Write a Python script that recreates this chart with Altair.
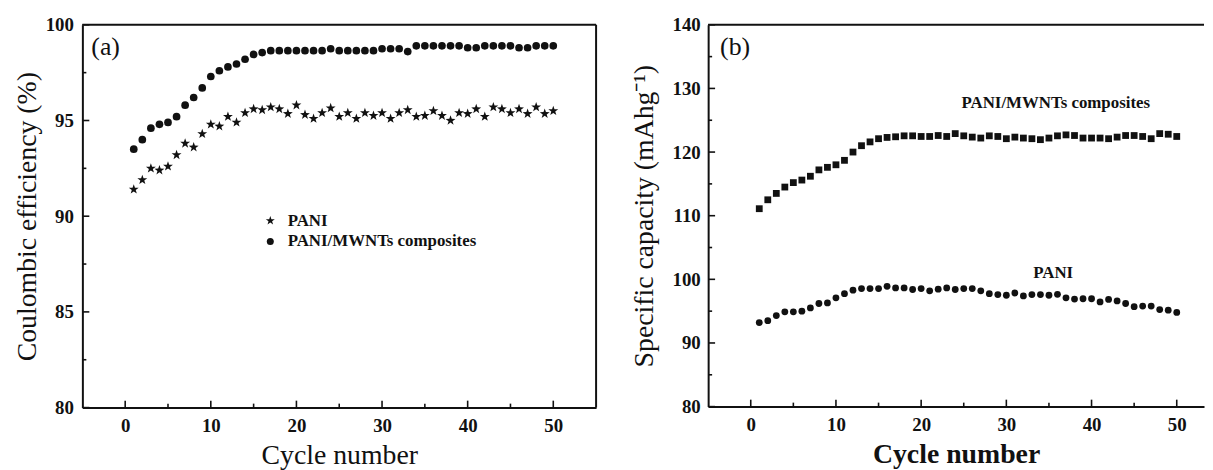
import altair as alt
import pandas as pd

# ---------------- data ----------------
cycles = list(range(1, 51))

a_pani = [91.4, 91.9, 92.5, 92.4, 92.6, 93.2, 93.8, 93.6, 94.3, 94.8,
          94.7, 95.2, 94.9, 95.4, 95.6, 95.55, 95.7, 95.6, 95.35, 95.8,
          95.3, 95.1, 95.4, 95.65, 95.2, 95.4, 95.1, 95.4, 95.25, 95.4,
          95.1, 95.4, 95.55, 95.2, 95.25, 95.5, 95.25, 95.0, 95.4, 95.35,
          95.6, 95.2, 95.7, 95.6, 95.4, 95.6, 95.35, 95.7, 95.35, 95.5]

a_comp = [93.5, 94.0, 94.6, 94.8, 94.9, 95.2, 95.8, 96.2, 96.7, 97.3,
          97.6, 97.8, 97.95, 98.2, 98.45, 98.55, 98.65, 98.65, 98.65, 98.65,
          98.65, 98.65, 98.65, 98.75, 98.65, 98.65, 98.65, 98.65, 98.65, 98.75,
          98.75, 98.75, 98.6, 98.9, 98.9, 98.9, 98.9, 98.9, 98.9, 98.8,
          98.8, 98.9, 98.9, 98.9, 98.9, 98.8, 98.8, 98.9, 98.9, 98.9]

b_comp = [111.1, 112.5, 113.5, 114.5, 115.2, 115.6, 116.2, 117.2, 117.6, 118.0,
          118.7, 120.0, 121.0, 121.6, 122.1, 122.3, 122.4, 122.55, 122.55, 122.45,
          122.45, 122.6, 122.45, 122.9, 122.55, 122.35, 122.2, 122.55, 122.45, 122.1,
          122.35, 122.2, 122.1, 121.95, 122.2, 122.55, 122.7, 122.6, 122.2, 122.2,
          122.2, 122.1, 122.35, 122.6, 122.6, 122.45, 122.1, 122.9, 122.8, 122.45]

b_pani = [93.2, 93.5, 94.3, 94.9, 94.9, 95.0, 95.5, 96.2, 96.3, 97.1,
          97.75, 98.3, 98.55, 98.55, 98.55, 98.9, 98.65, 98.65, 98.4, 98.55,
          98.2, 98.45, 98.65, 98.4, 98.55, 98.55, 98.2, 97.75, 97.6, 97.5,
          97.85, 97.4, 97.6, 97.6, 97.5, 97.65, 97.1, 96.9, 96.95, 96.95,
          96.45, 96.85, 96.6, 96.2, 95.7, 95.8, 95.8, 95.25, 95.15, 94.8]

series_names = ["PANI", "PANI/MWNTs composites"]
panel_tags = ["(a)", "(b)"]
y_titles = ["Coulombic efficiency (%)", "Specific capacity (mAhg\u207b\u00b9)"]
x_title = "Cycle number"

x_major = [0, 10, 20, 30, 40, 50]
x_minor = [5, 15, 25, 35, 45]
ya_major = [80, 85, 90, 95, 100]
ya_minor = [82.5, 87.5, 92.5, 97.5]
yb_major = [80, 90, 100, 110, 120, 130, 140]
yb_minor = [85, 95, 105, 115, 125, 135]

# ---------------- style ----------------
FONT = "Liberation Serif"
INK = "#111111"
WA, HA = 518, 386
WB, HB = 500, 385
# five-pointed star, drawn a little beyond the unit box so it reads as large as the dots
STAR = ("M0,-1.35L0.317,-0.437L1.284,-0.417L0.513,0.167L0.794,1.092L0,0.54"
        "L-0.794,1.092L-0.513,0.167L-1.284,-0.417L-0.317,-0.437Z")


def axis(values, title, title_weight, label_pad, title_pad):
    return alt.Axis(values=values, title=title, ticks=False,
                    grid=False, domainColor=INK, domainWidth=2,
                    labelFont=FONT, labelFontSize=19, labelFontWeight="bold",
                    labelColor=INK, labelPadding=label_pad,
                    titleFont=FONT, titleFontSize=28, titleFontWeight=title_weight,
                    titleColor=INK, titlePadding=title_pad)


def tick_layers(ymaj, ymin, H):
    layers = []
    for vals, ln in ((x_major, 7), (x_minor, 4)):
        layers.append(
            alt.Chart(pd.DataFrame({"cycle": vals})).mark_rule(color=INK, strokeWidth=1.6)
            .encode(x="cycle:Q", y=alt.value(H), y2=alt.value(H - ln)))
    for vals, ln in ((ymaj, 7), (ymin, 4)):
        layers.append(
            alt.Chart(pd.DataFrame({"value": vals})).mark_rule(color=INK, strokeWidth=1.6)
            .encode(y="value:Q", x=alt.value(0), x2=alt.value(ln)))
    return layers


# ---------------- panel (a) ----------------
dfa = pd.DataFrame({
    "cycle": cycles * 2,
    "value": a_pani + a_comp,
    "series": [series_names[0]] * 50 + [series_names[1]] * 50,
})

xa = alt.X("cycle:Q", scale=alt.Scale(domain=[-5, 55], nice=False, zero=False),
           axis=axis(x_major, x_title, "normal", 9, 6))
ya = alt.Y("value:Q", scale=alt.Scale(domain=[80, 100], nice=False, zero=False),
           axis=axis(ya_major, y_titles[0], "normal", 9, 4))

pts_a = alt.Chart(dfa).mark_point(filled=True, opacity=1, color=INK, size=60).encode(
    x=xa, y=ya,
    shape=alt.Shape("series:N", scale=alt.Scale(domain=series_names, range=[STAR, "circle"]),
                    legend=alt.Legend(title=None, orient="none", legendX=181, legendY=189,
                                      labelFont=FONT, labelFontSize=17, labelFontWeight="bold",
                                      labelColor=INK, symbolFillColor=INK, labelLimit=400,
                                      symbolSize=50, labelOffset=9,
                                      rowPadding=3, padding=0)),
)

tag_a = alt.Chart(pd.DataFrame({"t": [panel_tags[0]]})).mark_text(
    font=FONT, fontSize=26, color=INK, align="left", baseline="top").encode(
    x=alt.value(9), y=alt.value(9), text="t:N")

frame_top_a = alt.Chart(pd.DataFrame({"value": [100]})).mark_rule(color=INK, strokeWidth=2).encode(
    y="value:Q", x=alt.value(0), x2=alt.value(WA))
frame_right_a = alt.Chart(pd.DataFrame({"cycle": [55]})).mark_rule(color=INK, strokeWidth=2).encode(
    x="cycle:Q", y=alt.value(0), y2=alt.value(HA))

panel_a = alt.layer(pts_a, tag_a, frame_top_a, frame_right_a,
                    *tick_layers(ya_major, ya_minor, HA)).properties(width=WA, height=HA)

# ---------------- panel (b) ----------------
dfb = pd.DataFrame({
    "cycle": cycles * 2,
    "value": b_pani + b_comp,
    "series": [series_names[0]] * 50 + [series_names[1]] * 50,
})

xb = alt.X("cycle:Q", scale=alt.Scale(domain=[-5, 53.2], nice=False, zero=False),
           axis=axis(x_major, x_title, "bold", 9, 6))
yb = alt.Y("value:Q", scale=alt.Scale(domain=[80, 140], nice=False, zero=False),
           axis=axis(yb_major, y_titles[1], "normal", 8, 14))

pts_b = alt.Chart(dfb).mark_point(filled=True, opacity=1, color=INK, size=47).encode(
    x=xb, y=yb,
    shape=alt.Shape("series:N", scale=alt.Scale(domain=series_names, range=["circle", "square"]),
                    legend=None),
)

lab_comp = alt.Chart(pd.DataFrame({"t": [series_names[1]]})).mark_text(
    font=FONT, fontSize=17, fontWeight="bold", color=INK).encode(
    x=alt.datum(35.8), y=alt.datum(127.7), text="t:N")
lab_pani = alt.Chart(pd.DataFrame({"t": [series_names[0]]})).mark_text(
    font=FONT, fontSize=17, fontWeight="bold", color=INK).encode(
    x=alt.datum(35.5), y=alt.datum(101.0), text="t:N")

frame_top_b = alt.Chart(pd.DataFrame({"value": [140]})).mark_rule(color=INK, strokeWidth=2).encode(
    y="value:Q", x=alt.value(0), x2=alt.value(WB))

tag_b = alt.Chart(pd.DataFrame({"t": [panel_tags[1]]})).mark_text(
    font=FONT, fontSize=26, color=INK, align="left", baseline="top").encode(
    x=alt.value(12), y=alt.value(9), text="t:N")

panel_b = alt.layer(pts_b, lab_comp, lab_pani, frame_top_b, tag_b,
                    *tick_layers(yb_major, yb_minor, HB)).properties(width=WB, height=HB)

chart = alt.hconcat(panel_a, panel_b, spacing=33).resolve_scale(
    shape="independent"
).properties(
    padding={"left": 5, "top": 6, "right": 0, "bottom": 0},
    background="white",
).configure_view(strokeOpacity=0)

chart.save("out.html", embed_options={"renderer": "svg", "actions": False})
